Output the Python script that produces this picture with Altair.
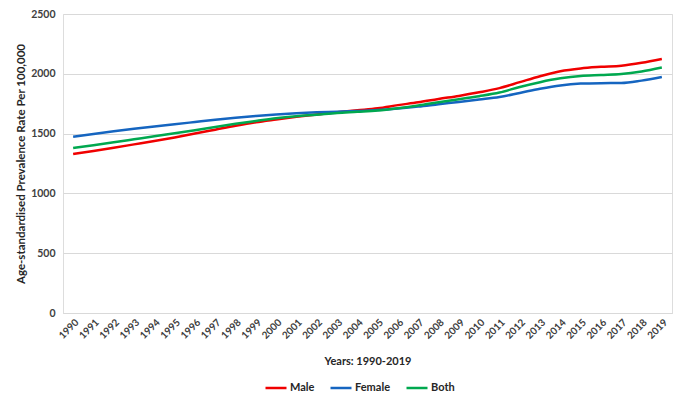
import altair as alt
import pandas as pd

years = [str(y) for y in range(1990, 2020)]
male = [1329, 1355, 1382, 1410, 1438, 1468, 1500, 1533, 1566, 1595, 1618, 1640, 1660, 1678, 1695,
        1712, 1738, 1762, 1790, 1815, 1845, 1880, 1930, 1980, 2022, 2045, 2058, 2068, 2092, 2124]
female = [1474, 1497, 1519, 1540, 1560, 1578, 1597, 1616, 1633, 1648, 1660, 1670, 1678, 1683, 1689,
          1697, 1710, 1726, 1746, 1765, 1785, 1806, 1840, 1875, 1903, 1918, 1922, 1923, 1943, 1973]
both = [1380, 1403, 1427, 1452, 1477, 1503, 1528, 1556, 1582, 1605, 1628, 1645, 1658, 1672, 1682,
        1693, 1712, 1735, 1762, 1788, 1813, 1843, 1890, 1930, 1962, 1982, 1990, 1998, 2020, 2053]
series_names = ["Male", "Female", "Both"]
series_colors = ["#F00000", "#1565C0", "#00A84F"]
y_ticks = [0, 500, 1000, 1500, 2000, 2500]

rows = []
for name, vals in zip(series_names, [male, female, both]):
    for yr, v in zip(years, vals):
        rows.append({"Year": yr, "Value": v, "Series": name})
df = pd.DataFrame(rows)

FONT = "Lato"

chart = alt.Chart(df).mark_line(interpolate="monotone", strokeWidth=2.5).encode(
    x=alt.X("Year:O", sort=years,
            scale=alt.Scale(type="point", padding=0.5),
            axis=alt.Axis(title="Years: 1990-2019", labelAngle=-45, labelFontSize=10,
                          labelFont=FONT, labelFontWeight="bold", labelColor="#404040",
                          labelPadding=4, ticks=False, domainColor="#D9D9D9",
                          titleFont=FONT, titleFontSize=11, titleFontWeight="bold",
                          titleColor="#262626", titleY=48, titleBaseline="middle")),
    y=alt.Y("Value:Q", scale=alt.Scale(domain=[0, 2500]),
            axis=alt.Axis(title="Age-standardised Prevalence Rate Per 100,000",
                          values=y_ticks, format="d", labelFontSize=10.5, labelFont=FONT,
                          labelFontWeight="bold", labelColor="#404040", labelPadding=8,
                          ticks=False, domain=False, gridColor="#D9D9D9",
                          titleFont=FONT, titleFontSize=11.5, titleFontWeight="bold",
                          titleColor="#262626", titleX=-42, titleY=149.5,
                          titleAngle=-90, titleBaseline="middle")),
    color=alt.Color("Series:N",
                    scale=alt.Scale(domain=series_names, range=series_colors),
                    legend=alt.Legend(title=None, orient="none", direction="horizontal",
                                      legendX=201, legendY=362, symbolType="stroke",
                                      symbolSize=441, symbolStrokeWidth=2.5,
                                      labelFont=FONT, labelFontSize=11,
                                      labelFontWeight="bold", labelColor="#262626",
                                      labelOffset=2, columnPadding=10, padding=0)),
).properties(
    width=609, height=299, autosize="none",
    padding={"left": 55, "top": 6, "right": 7, "bottom": 82},
).configure_view(stroke=None).configure(background="white")

chart.save("out.html", embed_options={"renderer": "svg", "actions": False})
